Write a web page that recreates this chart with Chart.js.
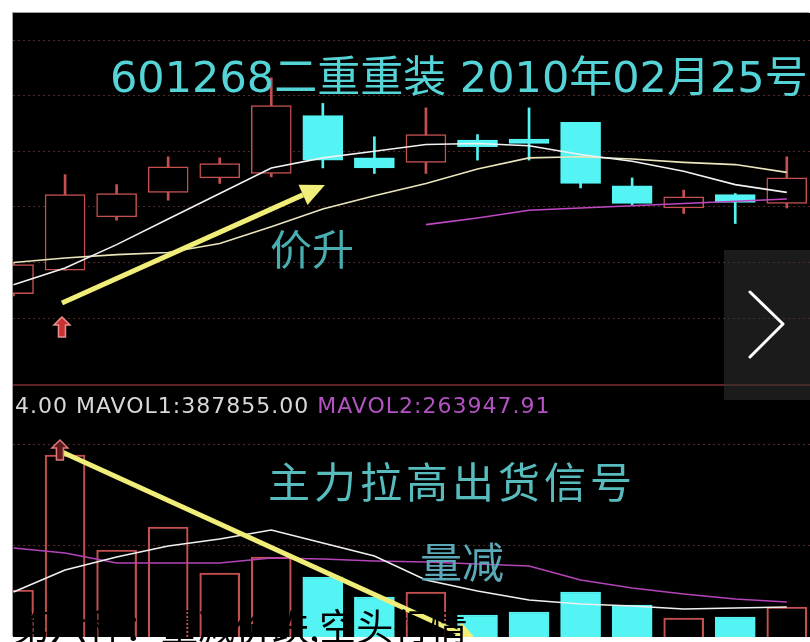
<!DOCTYPE html>
<html>
<head>
<meta charset="utf-8">
<script src="https://cdn.jsdelivr.net/npm/chart.js@4.4.1/dist/chart.umd.min.js"></script>
<style>
  html, body { margin: 0; padding: 0; background: #fff; }
  body { width: 810px; height: 642px; position: relative; overflow: hidden; }
  #frame { position: absolute; left: 13px; top: 13px; width: 797px; height: 624px; background: #000; box-shadow: -1px -1px 0 #a0a0a0; }
  canvas { position: absolute; left: 13px; }
  #priceChart { top: 13px; }
  #volChart { top: 387px; }
  #sep { position: absolute; left: 13px; top: 384px; width: 797px; height: 2px; background: #5e2222; }
  .txt { position: absolute; white-space: nowrap; line-height: 1; }
  #title { left: 110px; top: 42px; font: 43px "DejaVu Sans", "Noto Sans CJK SC", sans-serif; color: #55d4d8; }
  #up { left: 270px; top: 216px; font: 42px "Noto Sans CJK SC", sans-serif; color: #4aaeb0; }
  #signal { left: 268px; top: 449px; font: 42px "Noto Sans CJK SC", sans-serif; color: #58bcbe; letter-spacing: 4px; }
  #less { left: 420px; top: 529px; font: 42px "Noto Sans CJK SC", sans-serif; color: #5aa8b8; }
  #mavol { left: 15px; top: 393px; font: 22px "DejaVu Sans", sans-serif; color: #d8d8d8; letter-spacing: 1px; }
  #mavol span { color: #b452c4; }
  #next { position: absolute; left: 724px; top: 250px; width: 86px; height: 150px; background: rgba(50,50,50,0.55); }
  #caption { left: 13px; top: 598px; font: 37px "Noto Sans CJK SC", sans-serif; color: #000; }
</style>
</head>
<body>
<div id="frame"></div>
<canvas id="priceChart" width="797" height="372"></canvas>
<div id="sep"></div>
<canvas id="volChart" width="797" height="250"></canvas>

<div class="txt" id="title">601268二重重装 2010年02月25号</div>
<div class="txt" id="up">价升</div>
<div class="txt" id="mavol">4.00 MAVOL1:387855.00 <span>MAVOL2:263947.91</span></div>
<div class="txt" id="signal">主力拉高出货信号</div>
<div class="txt" id="less">量减</div>

<div id="next"></div>
<svg style="position:absolute;left:0;top:0" width="810" height="642">
  <polyline points="750,292 783,324 750,357" fill="none" stroke="#fff" stroke-width="3" stroke-linecap="round" stroke-linejoin="round"/>
</svg>

<div class="txt" id="caption">第六种：量减价跌,空头行情</div>

<script>
// 16 trading sessions shown in the screenshot
const sessions = [0, 1, 2, 3, 4, 5, 6, 7, 8, 9, 10, 11, 12, 13, 14, 15];

const opens  = [13.22, 13.43, 13.91, 14.13, 14.26, 14.30, 14.82, 14.44, 14.40, 14.60, 14.61, 14.76, 14.19, 13.99, 14.11, 14.03];
const closes = [13.48, 14.11, 14.12, 14.36, 14.39, 14.91, 14.42, 14.35, 14.65, 14.54, 14.57, 14.21, 14.03, 14.09, 14.04, 14.26];
const highs  = [13.50, 14.29, 14.20, 14.45, 14.44, 15.16, 14.93, 14.63, 14.89, 14.65, 14.89, 14.76, 14.26, 14.15, 14.12, 14.45];
const lows   = [13.20, 13.43, 13.88, 14.06, 14.21, 14.27, 14.35, 14.30, 14.30, 14.42, 14.42, 14.17, 14.02, 13.94, 13.85, 13.99];

const ma5  = [13.30, 13.45, 13.66, 13.89, 14.12, 14.35, 14.44, 14.50, 14.56, 14.57, 14.55, 14.47, 14.41, 14.32, 14.20, 14.13];
const ma10 = [13.50, 13.54, 13.57, 13.59, 13.67, 13.82, 13.98, 14.10, 14.21, 14.34, 14.44, 14.45, 14.43, 14.40, 14.38, 14.31];
const ma20 = [null, null, null, null, null, null, null, null, 13.84, 13.90, 13.97, 13.99, 14.01, 14.03, 14.05, 14.07];

const volumes = [550000, 1900000, 950000, 1180000, 720000, 880000, 680000, 480000, 530000, 300000, 330000, 530000, 400000, 270000, 280000, 380000];
const mavol1  = [530000, 750000, 880000, 990000, 1060000, 1150000, 1020000, 890000, 650000, 540000, 450000, 410000, 390000, 360000, 370000, 380000];
const mavol2  = [970000, 920000, 820000, 820000, 820000, 870000, 860000, 840000, 830000, 810000, 790000, 650000, 570000, 510000, 460000, 430000];

const priceGrid = [13.0, 13.5, 14.0, 14.5, 15.0, 15.5];
const volGrid = [1000000, 2000000];

const RED = '#c45050';
const CYAN = '#55f4f4';
const isUp = sessions.map(i => closes[i] >= opens[i]);

function points(arr) {
	return sessions.map(i => ({ x: i, y: arr[i] }));
}

// arrows and small pins, anchored in data units
const overlay = {
	id: 'overlay',
	afterDatasetsDraw(chart, args, opts) {
		const { ctx } = chart;
		const sx = chart.scales.x, sy = chart.scales.y;
		ctx.save();
		(opts.arrows || []).forEach(a => {
			const x1 = sx.getPixelForValue(a.from[0]), y1 = sy.getPixelForValue(a.from[1]);
			const x2 = sx.getPixelForValue(a.to[0]), y2 = sy.getPixelForValue(a.to[1]);
			const ang = Math.atan2(y2 - y1, x2 - x1);
			const hl = 24, hw = 11;
			const bx = x2 - hl * Math.cos(ang), by = y2 - hl * Math.sin(ang);
			ctx.strokeStyle = '#f0ee78';
			ctx.lineWidth = 5;
			ctx.beginPath();
			ctx.moveTo(x1, y1);
			ctx.lineTo(bx, by);
			ctx.stroke();
			ctx.fillStyle = '#f0ee78';
			ctx.beginPath();
			ctx.moveTo(x2, y2);
			ctx.lineTo(bx + hw * Math.sin(ang), by - hw * Math.cos(ang));
			ctx.lineTo(bx - hw * Math.sin(ang), by + hw * Math.cos(ang));
			ctx.closePath();
			ctx.fill();
		});
		(opts.pins || []).forEach(p => {
			const px = sx.getPixelForValue(p.at[0]), py = sy.getPixelForValue(p.at[1]);
			ctx.beginPath();
			ctx.moveTo(px, py);
			ctx.lineTo(px + 8, py + 8);
			ctx.lineTo(px + 3.5, py + 8);
			ctx.lineTo(px + 3.5, py + 20);
			ctx.lineTo(px - 3.5, py + 20);
			ctx.lineTo(px - 3.5, py + 8);
			ctx.lineTo(px - 8, py + 8);
			ctx.closePath();
			ctx.fillStyle = p.fill;
			ctx.fill();
			ctx.strokeStyle = p.stroke;
			ctx.lineWidth = 1.5;
			ctx.stroke();
		});
		ctx.restore();
	}
};

const gridStyle = { color: 'rgba(140,66,66,0.6)', lineWidth: 1, drawTicks: false };
const xScale = { type: 'linear', min: -0.01, max: 15.45, offset: false, display: false };

new Chart(document.getElementById('priceChart'), {
	type: 'bar',
	data: {
		datasets: [
			{ type: 'line', data: points(ma5), borderColor: '#f2f2f2', borderWidth: 1.6, pointRadius: 0, order: 0 },
			{ type: 'line', data: points(ma10), borderColor: '#ece6bc', borderWidth: 1.6, pointRadius: 0, order: 0 },
			{ type: 'line', data: points(ma20), borderColor: '#c048c4', borderWidth: 1.6, pointRadius: 0, order: 0 },
			{
				data: sessions.map(i => ({ x: i, y: [opens[i], closes[i]] })),
				backgroundColor: isUp.map(u => u ? '#000' : CYAN),
				borderColor: isUp.map(u => u ? RED : CYAN),
				borderWidth: 1.5,
				borderSkipped: false,
				barThickness: 40,
				grouped: false,
				order: 1
			},
			{
				data: sessions.map(i => ({ x: i, y: [lows[i], highs[i]] })),
				backgroundColor: isUp.map(u => u ? RED : CYAN),
				barThickness: 2,
				grouped: false,
				order: 2
			}
		]
	},
	options: {
		responsive: false,
		animation: false,
		layout: { padding: 0 },
		plugins: {
			legend: { display: false },
			tooltip: { enabled: false },
			overlay: {
				arrows: [{ from: [0.94, 13.135], to: [6.04, 14.196] }],
				pins: [{ at: [0.94, 13.01], fill: '#c83232', stroke: '#e89090' }]
			}
		},
		scales: {
			x: xScale,
			y: {
				min: 12.398, max: 15.743,
				ticks: { display: false },
				border: { display: false, dash: [2, 3] },
				grid: gridStyle,
				afterBuildTicks: axis => { axis.ticks = priceGrid.map(v => ({ value: v })); }
			}
		}
	},
	plugins: [overlay]
});

new Chart(document.getElementById('volChart'), {
	type: 'bar',
	data: {
		datasets: [
			{ type: 'line', data: points(mavol1), borderColor: '#f0f0f0', borderWidth: 1.6, pointRadius: 0, order: 0 },
			{ type: 'line', data: points(mavol2), borderColor: '#b444b8', borderWidth: 1.6, pointRadius: 0, order: 0 },
			{
				data: points(volumes),
				backgroundColor: isUp.map(u => u ? 'rgba(0,0,0,0)' : CYAN),
				borderColor: isUp.map(u => u ? RED : CYAN),
				borderWidth: 1.5,
				borderSkipped: false,
				barThickness: 40,
				grouped: false,
				order: 1
			}
		]
	},
	options: {
		responsive: false,
		animation: false,
		layout: { padding: 0 },
		plugins: {
			legend: { display: false },
			tooltip: { enabled: false },
			overlay: {
				arrows: [{ from: [0.94, 1930000], to: [9.02, 30000] }],
				pins: [{ at: [0.90, 2050000], fill: '#5a1a1a', stroke: '#e07a7a' }]
			}
		},
		scales: {
			x: xScale,
			y: {
				min: 80000, max: 2580000,
				ticks: { display: false },
				border: { display: false, dash: [2, 3] },
				grid: gridStyle,
				afterBuildTicks: axis => { axis.ticks = volGrid.map(v => ({ value: v })); }
			}
		}
	},
	plugins: [overlay]
});
</script>
</body>
</html>
